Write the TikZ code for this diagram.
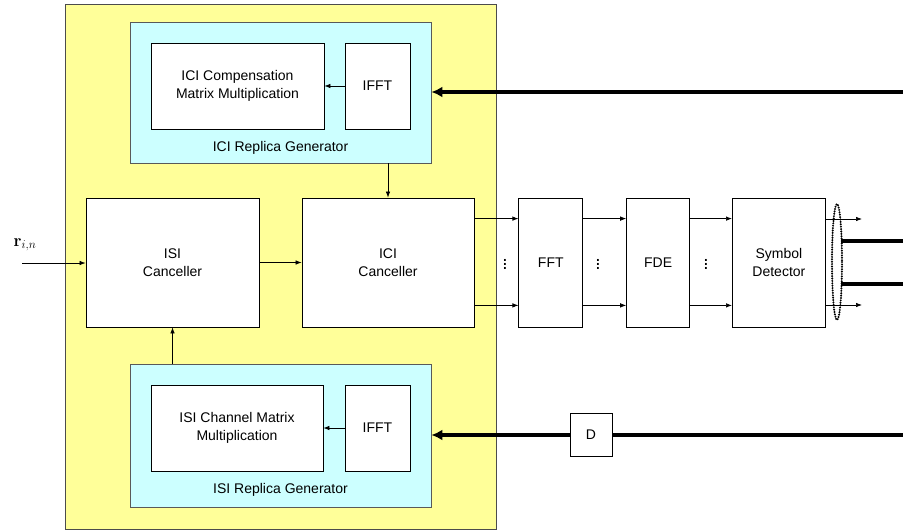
\documentclass[tikz,border=0pt]{standalone}
\usepackage[no-math]{fontspec}
\setmainfont{Liberation Sans}
\usetikzlibrary{arrows.meta, positioning}
\definecolor{paleyellow}{RGB}{255,255,153}
\definecolor{palecyan}{RGB}{204,255,255}

\begin{document}
\begin{tikzpicture}[x=1pt,y=-1pt,font=\fontsize{14}{18}\selectfont,
    box/.style={draw,fill=white,line width=0.8pt,inner sep=0pt,align=center},
    gen/.style={draw=gray!70!black,fill=palecyan,line width=0.8pt,inner sep=0pt,minimum width=301pt},
    arr/.style={-{Latex[length=6pt,width=4.5pt]},line width=0.7pt},
    bus/.style={-{Latex[length=11pt,width=11pt]},line width=3.6pt},
    dots/.style={font=\fontsize{19}{20}\selectfont,inner sep=0pt}]
    \useasboundingbox (0,0) rectangle (903,532);
    \node[draw=gray!60!black,fill=paleyellow,line width=0.8pt,inner sep=0pt,minimum width=431pt,minimum height=525pt](canc) at (280.5,266.5){};
    % replica generators
    \node[gen,minimum height=141pt](icigen) at (280.5,92.5){};
    \node[box,minimum width=173pt,minimum height=86pt](icicomp) at (237.5,86){ICI Compensation\\Matrix Multiplication};
    \node[box,minimum width=65pt,minimum height=86pt](ifftA) at (377.5,86){IFFT};
    \node(icilbl) at (280.5,148){ICI Replica Generator};
    \node[gen,minimum height=143pt](isigen) at (280.5,435.5){};
    \node[box,minimum width=172pt,minimum height=86pt](isimat) at (237,428){ISI Channel Matrix\\Multiplication};
    \node[box,minimum width=65pt,minimum height=86pt](ifftB) at (377.5,428){IFFT};
    \node(isilbl) at (280.5,490){ISI Replica Generator};
    % cancellers
    \node[box,minimum width=173pt,minimum height=129pt](isi) at (172.5,262.5){ISI\\Canceller};
    \node[box,minimum width=172pt,minimum height=129pt](ici) at (388,262.5){ICI\\Canceller};
    \node[box,minimum width=64pt,minimum height=129pt,right=44pt of ici](fft){FFT};
    \node[box,minimum width=63pt,minimum height=129pt,right=43pt of fft](fde){FDE};
    \node[box,minimum width=93pt,minimum height=129pt,right=42pt of fde](det){Symbol\\Detector};
    \node[box,minimum width=42pt,minimum height=43pt](dly) at (591,434.5){D};
    \node(rin) at (25,245){\fontsize{17}{18}\selectfont$\mathbf{r}_{i,n}$};
    \node[dots](dotA) at (505,261){$\vdots$};
    \node[dots](dotB) at (598,261){$\vdots$};
    \node[dots](dotC) at (706,261){$\vdots$};
    \coordinate(inp) at (22,263);
    \coordinate(busA) at (903,92);
    \coordinate(busB) at (903,435);
    \coordinate(outA) at (862,219);
    \coordinate(outB) at (862,305);
    \coordinate(decA) at (841,241);
    \coordinate(decB) at (841,284);
    \coordinate(endA) at (903,241);
    \coordinate(endB) at (903,284);
    \draw[arr](ifftA)--(icicomp);
    \draw[arr](ifftB)--(isimat);
    \draw[arr](inp)--(isi.west |- inp);
    \draw[arr](isi)--(ici);
    \draw[arr](ici.north |- icigen.south)--(ici.north);
    \draw[arr](isi.south |- isigen.north)--(isi.south);
    \draw[arr]([yshift=-21pt]ici.north east)--([yshift=-21pt]fft.north west);
    \draw[arr]([yshift=22pt]ici.south east)--([yshift=22pt]fft.south west);
    \draw[arr]([yshift=-21pt]fft.north east)--([yshift=-21pt]fde.north west);
    \draw[arr]([yshift=22pt]fft.south east)--([yshift=22pt]fde.south west);
    \draw[arr]([yshift=-21pt]fde.north east)--([yshift=-21pt]det.north west);
    \draw[arr]([yshift=22pt]fde.south east)--([yshift=22pt]det.south west);
    \draw[arr](det.east |- outA)--(outA);
    \draw[arr](det.east |- outB)--(outB);
    \draw[bus](busA)--(icigen.east |- busA);
    \draw[line width=3.6pt](busB)--(dly.east |- busB);
    \draw[bus](dly.west |- busB)--(isigen.east |- busB);
    \draw[line width=3.6pt](decA)--(endA);
    \draw[line width=3.6pt](decB)--(endB);
    \draw[line width=2.2pt,line cap=round,dash pattern=on 0pt off 2.4pt](837,262) ellipse [x radius=5, y radius=58];
\end{tikzpicture}
\end{document}
